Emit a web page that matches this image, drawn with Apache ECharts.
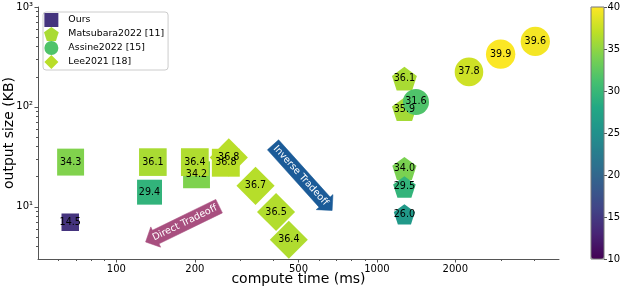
<!DOCTYPE html>
<html>
<head>
<meta charset="utf-8">
<script src="https://cdn.jsdelivr.net/npm/echarts@6/dist/echarts.min.js"></script>
<style>
html,body{margin:0;padding:0;background:#fff;}
#chart{width:623px;height:290px;}
</style>
</head>
<body>
<div id="chart"></div>
<script>
// ---- data: [compute time (ms), output size (KB), accuracy] ----
const ours      = [[66.5, 7.0, 14.5], [66.7, 28, 34.3], [134, 14.0, 29.4], [138, 28, 36.1], [203, 20.9, 34.2], [200, 28, 36.4], [263, 27.6, 36.8]];
const matsubara = [[1275, 186, 36.1], [1275, 92, 35.9], [1275, 23.5, 34.0], [1275, 15.4, 29.5], [1275, 8.2, 26.0]];
const assine    = [[1412, 112, 31.6], [2256, 224, 37.8], [2985, 337, 39.9], [4055, 452, 39.6]];
const lee       = [[270, 31.2, 36.8], [342, 16.2, 36.7], [410, 8.85, 36.5], [459, 4.67, 36.4]];
const seriesNames = ['Ours', 'Matsubara2022 [11]', 'Assine2022 [15]', 'Lee2021 [18]'];

// ---- axes / ticks ----
const xRange = [50, 5000];
const yRange = [3, 1000];
const xMajor = [100, 200, 500, 1000, 2000];
const xMinor = [60, 70, 80, 90, 300, 400, 600, 700, 800, 900, 3000, 4000];
const yMajor = [10, 100, 1000];
const yMinor = [4, 5, 6, 7, 8, 9, 20, 30, 40, 50, 60, 70, 80, 90, 200, 300, 400, 500, 600, 700, 800, 900];
const cbRange = [10, 40];
const cbInterval = 5;

// ---- annotations (text center in data coords) ----
const annotations = [
  { text: 'Direct Tradeoff', at: [183, 6.9], angle: 26, dir: 'left', color: '#a84f7f' },
  { text: 'Inverse Tradeoff', at: [510, 20.5], angle: -48, dir: 'right', color: '#1b5b98' }
];

const viridis = ['#440154', '#482475', '#414487', '#355f8d', '#2a788e', '#21918c', '#22a884', '#44bf70', '#7ad151', '#bddf26', '#fde725'];
function hex2rgb(h) { return [1, 3, 5].map(i => parseInt(h.substr(i, 2), 16)); }
function viridisAt(v) {
  let t = (v - cbRange[0]) / (cbRange[1] - cbRange[0]);
  t = Math.max(0, Math.min(1, t)) * (viridis.length - 1);
  const i = Math.min(viridis.length - 2, Math.floor(t)), f = t - i;
  const a = hex2rgb(viridis[i]), b = hex2rgb(viridis[i + 1]);
  return 'rgb(' + a.map((c, k) => Math.round(c + (b[k] - c) * f)).join(',') + ')';
}

const FONT = 'DejaVu Sans';
const pentagonPath = 'path://M0,-1L0.951,-0.309L0.588,0.809L-0.588,0.809L-0.951,-0.309Z';
const squarePath = 'path://M0,0H10V10H0Z';
const diamondPath = 'path://M0,-1L1,0L0,1L-1,0Z';
const sup = { 1: '\u00b9', 2: '\u00b2', 3: '\u00b3' };

const labelOpt = {
  show: true, position: 'inside', color: '#000', fontSize: 9.6, fontFamily: FONT,
  formatter: p => p.value[2].toFixed(1)
};

function scatter(name, data, symbol, sizeFn, extra) {
  return Object.assign({
    type: 'scatter', name: name, data: data, xAxisIndex: 0, yAxisIndex: 0,
    symbol: symbol, symbolSize: v => sizeFn(v[2]),
    itemStyle: { opacity: 1 },
    label: labelOpt, emphasis: { disabled: true }, silent: true
  }, extra || {});
}

const chart = echarts.init(document.getElementById('chart'), null, { renderer: 'canvas' });

const axisColor = '#555';
const option = {
  animation: false,
  backgroundColor: '#fff',
  textStyle: { fontFamily: FONT },
  grid: [
    { left: 38, right: 64, top: 7, bottom: 31, containLabel: false, outerBoundsMode: 'none' },
    { left: 591, width: 13, top: 7, height: 252, show: true, borderColor: '#777', borderWidth: 1, backgroundColor: 'transparent', z: 10, containLabel: false, outerBoundsMode: 'none' }
  ],
  xAxis: [
    {
      type: 'log', logBase: 10, gridIndex: 0, min: xRange[0], max: xRange[1], position: 'bottom',
      name: 'compute time (ms)', nameLocation: 'middle', nameGap: 13, nameMoveOverlap: false,
      nameTextStyle: { fontSize: 14, color: '#000', fontFamily: FONT },
      axisLine: { show: true, lineStyle: { color: axisColor, width: 1 } },
      axisTick: { show: true, customValues: xMajor, length: 3.5, lineStyle: { color: axisColor } },
      axisLabel: { show: true, customValues: xMajor, formatter: v => String(Math.round(v)), fontSize: 10, color: '#000', margin: 5, fontFamily: FONT },
      splitLine: { show: false }, minorTick: { show: false }
    },
    {
      type: 'log', logBase: 10, gridIndex: 0, min: xRange[0], max: xRange[1], position: 'bottom',
      axisLine: { show: false },
      axisTick: { show: true, customValues: xMinor, length: 2, lineStyle: { color: axisColor } },
      axisLabel: { show: false }, splitLine: { show: false }
    },
    { type: 'category', gridIndex: 1, data: [''], show: false }
  ],
  yAxis: [
    {
      type: 'log', logBase: 10, gridIndex: 0, min: yRange[0], max: yRange[1], position: 'left',
      name: 'output size (KB)', nameLocation: 'middle', nameGap: 22, nameMoveOverlap: false,
      nameTextStyle: { fontSize: 14, color: '#000', fontFamily: FONT },
      axisLine: { show: true, lineStyle: { color: axisColor, width: 1 } },
      axisTick: { show: true, customValues: yMajor, length: 3.5, lineStyle: { color: axisColor } },
      axisLabel: { show: true, customValues: yMajor, formatter: v => '10' + sup[Math.round(Math.log10(v))], fontSize: 10, color: '#000', margin: 5, fontFamily: FONT },
      splitLine: { show: false }
    },
    {
      type: 'log', logBase: 10, gridIndex: 0, min: yRange[0], max: yRange[1], position: 'left',
      axisLine: { show: false },
      axisTick: { show: true, customValues: yMinor, length: 2, lineStyle: { color: axisColor } },
      axisLabel: { show: false }, splitLine: { show: false }
    },
    {
      type: 'value', gridIndex: 1, min: cbRange[0], max: cbRange[1], interval: cbInterval, position: 'right',
      axisLine: { show: false },
      axisTick: { show: true, length: 3, lineStyle: { color: axisColor } },
      axisLabel: { show: true, fontSize: 10, color: '#000', margin: 3.5, fontFamily: FONT },
      splitLine: { show: false }
    }
  ],
  visualMap: {
    type: 'continuous', min: cbRange[0], max: cbRange[1], dimension: 2, seriesIndex: [0, 1, 2, 3],
    inRange: { color: viridis }, left: 591, top: 7, itemWidth: 13, itemHeight: 252,
    padding: 0, calculable: false, hoverLink: false, realtime: false, orient: 'vertical',
    borderWidth: 0, textGap: 0
  },
  legend: {
    orient: 'vertical', left: 43, top: 12, itemWidth: 24, itemHeight: 14, itemGap: 0,
    padding: [1, 4, 1, 1], borderColor: '#ccc', borderWidth: 1, borderRadius: 3,
    backgroundColor: 'rgba(255,255,255,0.8)',
    textStyle: { fontSize: 9.4, color: '#000', fontFamily: FONT },
    selectedMode: false,
    data: [
      { name: seriesNames[0], icon: squarePath, itemStyle: { color: viridisAt(ours[0][2]), opacity: 1 } },
      { name: seriesNames[1], icon: pentagonPath, itemStyle: { color: viridisAt(matsubara[0][2]), opacity: 1 } },
      { name: seriesNames[2], icon: 'circle', itemStyle: { color: viridisAt(assine[0][2]), opacity: 1 } },
      { name: seriesNames[3], icon: diamondPath, itemStyle: { color: viridisAt(lee[0][2]), opacity: 1 } }
    ]
  },
  series: [
    scatter(seriesNames[0], ours, 'rect', v => 4.6 * Math.sqrt(v)),
    scatter(seriesNames[1], matsubara, pentagonPath, v => 4.15 * Math.sqrt(v), { symbolKeepAspect: true, symbolOffset: [0, '-5%'] }),
    scatter(seriesNames[2], assine, 'circle', v => 4.65 * Math.sqrt(v)),
    scatter(seriesNames[3], lee, 'diamond', v => 6.3 * Math.sqrt(v))
  ]
};
chart.setOption(option);

// ---- arrow annotations (matplotlib larrow / rarrow style boxes) ----
const ctx = document.createElement('canvas').getContext('2d');
const annFont = '9.6px "' + FONT + '"';
ctx.font = annFont;
const graphics = annotations.map(a => {
  const p = chart.convertToPixel({ seriesIndex: 0 }, a.at);
  const tw = ctx.measureText(a.text).width;
  const pad = 2.9, H = 15, dx = H / 2, dxx = dx / 2;
  let x0 = -tw / 2 - pad, x1 = tw / 2 + pad;
  const y0 = -H / 2, y1 = H / 2;
  let pts;
  if (a.dir === 'left') {
    x0 = x0 + pad / 1.4;
    pts = [[x0 + dxx, y0], [x1, y0], [x1, y1], [x0 + dxx, y1], [x0 + dxx, y1 + dxx], [x0 - dx, 0], [x0 + dxx, y0 - dxx]];
  } else {
    x1 = x1 - pad / 1.4;
    pts = [[x1 - dxx, y0], [x0, y0], [x0, y1], [x1 - dxx, y1], [x1 - dxx, y1 + dxx], [x1 + dx, 0], [x1 - dxx, y0 - dxx]];
  }
  return {
    type: 'group', x: p[0], y: p[1], rotation: a.angle * Math.PI / 180, z: 20, silent: true,
    children: [
      { type: 'polygon', shape: { points: pts }, style: { fill: a.color, stroke: a.color, lineWidth: 0.5 } },
      { type: 'text', x: 0, y: 0, style: { text: a.text, fill: '#fff', font: annFont, align: 'center', verticalAlign: 'middle' } }
    ]
  };
});
chart.setOption({ graphic: graphics });
</script>
</body>
</html>
